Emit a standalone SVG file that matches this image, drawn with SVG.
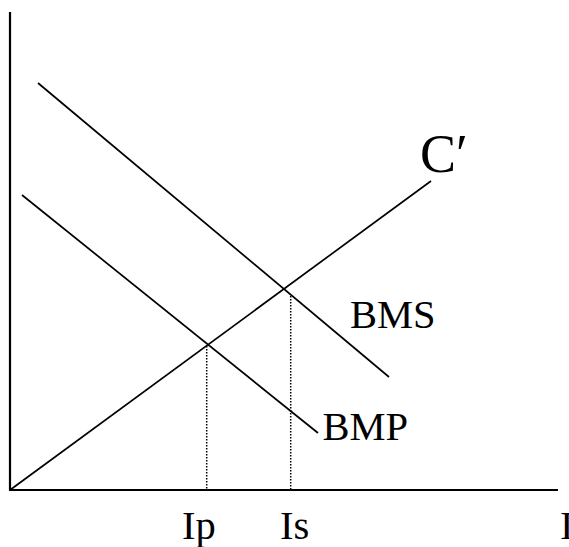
<svg xmlns="http://www.w3.org/2000/svg" width="569" height="547" viewBox="0 0 569 547">
<style>
.ax{stroke:#000;stroke-width:2.2;fill:none}
.ln{stroke:#000;stroke-width:1.7;fill:none}
.dt{stroke:#000;stroke-width:1.5;stroke-dasharray:1.5 1.5;fill:none}
text{font-family:"Liberation Serif","Times New Roman",serif;fill:#000}
.lb{font-size:40.5px}
</style>
<rect width="569" height="547" fill="#fff"/>
<g id="axes">
<line class="ax" x1="10" y1="12" x2="10" y2="490"/>
<line class="ax" x1="9" y1="490" x2="558" y2="490"/>
</g>
<g id="connectors">
<line class="ln" x1="10" y1="490" x2="431" y2="181"/>
<line class="ln" x1="38" y1="83" x2="389" y2="377"/>
<line class="ln" x1="22" y1="195" x2="318" y2="433"/>
<line class="dt" x1="206.7" y1="346" x2="206.7" y2="489"/>
<line class="dt" x1="290.7" y1="296" x2="290.7" y2="489"/>
</g>
<g id="label-C"><text x="420" y="172" font-size="54">C′</text></g>
<g id="label-BMS"><text class="lb" x="350" y="328">BMS</text></g>
<g id="label-BMP"><text class="lb" x="322.5" y="439.5">BMP</text></g>
<g id="label-Ip"><text class="lb" x="182" y="539">Ip</text></g>
<g id="label-Is"><text class="lb" x="280" y="539">Is</text></g>
<g id="label-I"><text class="lb" x="560" y="539">I</text></g>
</svg>
